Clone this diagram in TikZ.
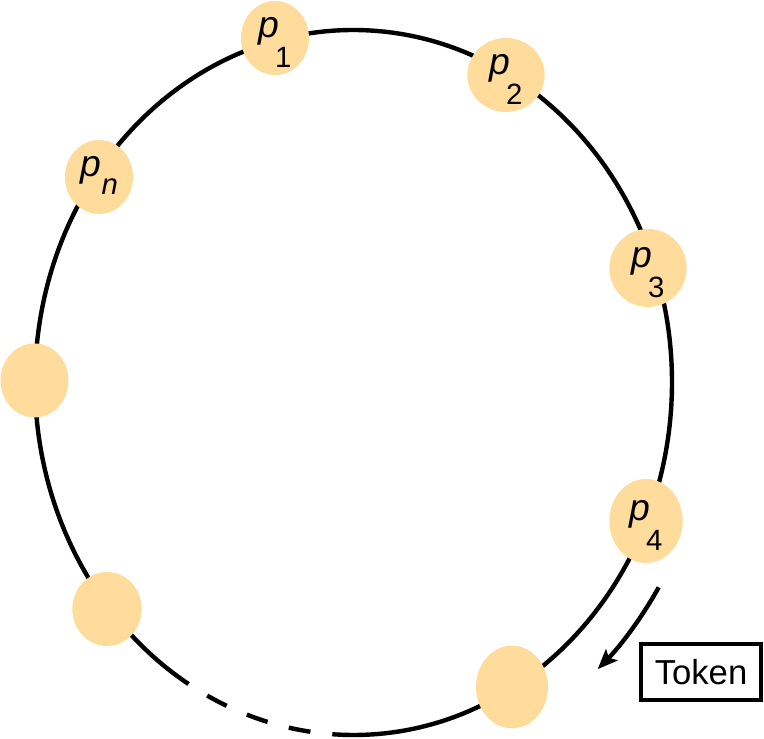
\documentclass[tikz,border=0pt]{standalone}
\usepackage{fontspec}
\setmainfont{Liberation Sans}
\usepackage{tikz}
\usetikzlibrary{arrows.meta,shapes.geometric}
\definecolor{RingFill}{HTML}{FFDC9B}
\newcommand{\pid}[3][22pt]{\textit{p}\kern#2\raisebox{-#1}{\fontsize{22}{24}\selectfont #3}}

\begin{document}
\begin{tikzpicture}[
    x=0.75pt,y=0.75pt,
    every node/.style={font=\fontsize{28}{30}\selectfont},
    proc/.style={ellipse,fill=RingFill,inner sep=0pt,minimum width=51pt,minimum height=55.5pt,text height=0pt,text depth=0pt},
    ring/.style={line width=3.3pt,draw=black},
    tokbox/.style={draw,line width=2.4pt,minimum width=90pt,minimum height=42pt,inner sep=0pt,font=\fontsize{26}{30}\selectfont},
    arrow/.style={-{Stealth[length=15pt,width=12pt,inset=3pt]},line width=3.3pt}
  ]
  \useasboundingbox (0,0) rectangle (764,739);
  \coordinate (c) at (353.5,356.5);
  \begin{scope}[shift={(c)}]
    % ring, broken at the bottom
    \draw[ring] (-93.3:318.5 and 352.5) arc[start angle=-93.3,end angle=238.8,x radius=318.5,y radius=352.5];
    \draw[ring,dash pattern=on 16.5pt off 16.5pt,dash phase=16.5pt] (238.8:318.5 and 352.5) arc[start angle=238.8,end angle=266.7,x radius=318.5,y radius=352.5];
    \coordinate (tokS) at (-31.5:358 and 392);
  \end{scope}

  \node[proc] (p1) at (275,701) {\pid{-3pt}{1}};
  \node[proc,minimum width=58pt] (p2) at (506,664) {\pid{-3pt}{2}};
  \node[proc,minimum width=58pt,minimum height=58.5pt] (p3) at (648,471) {\pid{-3pt}{3}};
  \node[proc,minimum width=55pt,minimum height=63pt] (p4) at (646,218) {\pid{-3pt}{4}};
  \node[proc,minimum width=54pt,minimum height=62pt] (pb) at (512,52) {};
  \node[proc,minimum width=52pt] (pll) at (107,130) {};
  \node[proc] (pl) at (34.5,358.5) {};
  \node[proc] (pn) at (99,562) {\pid[13pt]{0.5pt}{\textit{n}}};

  \node[tokbox] (token) at (701,67) {Token};
  \draw[arrow] (tokS) arc[start angle=-31.5,end angle=-47,x radius=358,y radius=392];
\end{tikzpicture}
\end{document}
